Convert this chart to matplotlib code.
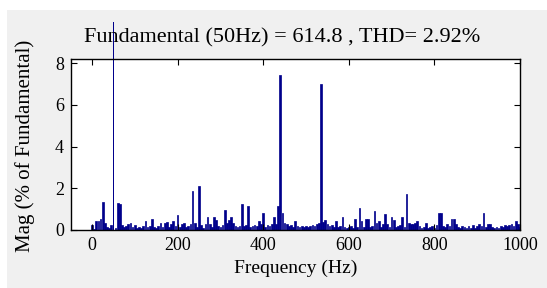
import matplotlib
matplotlib.use("Agg")
import matplotlib.pyplot as plt
import numpy as np
from matplotlib.patches import Rectangle
from matplotlib.transforms import Bbox, TransformedBbox

# FFT bins, 5 Hz resolution
freq = np.arange(0, 1001, 5)

# magnitude in % of fundamental, one row per 50 Hz
mag = [
    0.25, 0.05, 0.45, 0.45, 0.52, 1.35, 0.35, 0.15, 0.10, 0.25,   # 0-45
    100.0, 0.10, 1.28, 1.25, 0.25, 0.15, 0.20, 0.30, 0.35, 0.15,  # 50-95
    0.25, 0.10, 0.15, 0.10, 0.20, 0.45, 0.15, 0.20, 0.55, 0.15,   # 100-145
    0.10, 0.20, 0.35, 0.15, 0.35, 0.40, 0.15, 0.30, 0.45, 0.20,   # 150-195
    0.72, 0.15, 0.30, 0.35, 0.15, 0.20, 0.30, 1.85, 0.35, 0.15,   # 200-245
    2.12, 0.25, 0.10, 0.30, 0.62, 0.30, 0.15, 0.60, 0.50, 0.20,   # 250-295
    0.15, 0.25, 0.97, 0.35, 0.50, 0.60, 0.35, 0.20, 0.15, 0.20,   # 300-345
    1.26, 0.20, 0.25, 1.16, 0.15, 0.20, 0.25, 0.20, 0.45, 0.30,   # 350-395
    0.80, 0.15, 0.25, 0.20, 0.30, 0.62, 0.30, 1.17, 7.45, 0.80,   # 400-445
    0.35, 0.30, 0.20, 0.25, 0.15, 0.45, 0.20, 0.15, 0.20, 0.15,   # 450-495
    0.20, 0.15, 0.20, 0.25, 0.20, 0.30, 0.35, 7.00, 0.40, 0.50,   # 500-545
    0.30, 0.20, 0.25, 0.15, 0.45, 0.15, 0.20, 0.64, 0.15, 0.10,   # 550-595
    0.15, 0.20, 0.10, 0.53, 0.15, 1.07, 0.45, 0.15, 0.55, 0.55,   # 600-645
    0.15, 0.20, 0.90, 0.35, 0.45, 0.15, 0.30, 0.76, 0.30, 0.15,   # 650-695
    0.64, 0.50, 0.15, 0.20, 0.25, 0.64, 0.15, 1.75, 0.35, 0.30,   # 700-745
    0.30, 0.35, 0.45, 0.20, 0.10, 0.15, 0.35, 0.10, 0.15, 0.20,   # 750-795
    0.10, 0.25, 0.82, 0.80, 0.20, 0.15, 0.30, 0.20, 0.55, 0.55,   # 800-845
    0.30, 0.15, 0.10, 0.20, 0.15, 0.10, 0.20, 0.10, 0.25, 0.10,   # 850-895
    0.20, 0.30, 0.20, 0.80, 0.15, 0.30, 0.30, 0.15, 0.10, 0.15,   # 900-945
    0.10, 0.20, 0.15, 0.25, 0.20, 0.25, 0.30, 0.20, 0.45, 0.30,   # 950-995
    0.15,                                                         # 1000
]

fund_freq = 50
fund_mag = 614.8
thd = 2.92

xticks = [0, 200, 400, 600, 800, 1000]
yticks = [0, 2, 4, 6, 8]

plt.rcParams["font.family"] = ["Liberation Serif", "DejaVu Serif"]

W, H = 547, 288
fig = plt.figure(figsize=(W / 100, H / 100), dpi=100)
fig.patch.set_facecolor("white")
# grey figure panel (white strip at top and left)
fig.patches.append(Rectangle((7 / W, 0), 1, 1 - 10 / H, transform=fig.transFigure,
                             facecolor="#f0f0f0", edgecolor="none", zorder=-10))

ax = fig.add_axes([71 / W, 1 - 230 / H, (520 - 71) / W, (230 - 59) / H])
bars = ax.bar(freq, mag, width=4, color="#00008b", edgecolor="#00008b", linewidth=0.5)

# the fundamental bar runs off the top of the axes as a thin line
clip = TransformedBbox(Bbox([[71 / W, 1 - 230 / H], [520 / W, 1 - 22 / H]]), fig.transFigure)
fund_bar = bars[list(freq).index(fund_freq)]
fund_bar.set_clip_box(clip)
fund_bar.set_width(2.0)
fund_bar.set_x(fund_freq - 1.0)
fund_bar.set_linewidth(0)

ax.set_xlim(-49, 1000)
ax.set_ylim(0, 8.2)
ax.set_xticks(xticks)
ax.set_yticks(yticks)
ax.tick_params(direction="in", length=4, width=0.8, top=True, right=True,
               labelsize=13, pad=5)
for s in ax.spines.values():
    s.set_linewidth(1.0)

fig.text(282.5 / W, 1 - 42 / H,
         f"Fundamental ({fund_freq}Hz) = {fund_mag} , THD= {thd:.2f}%",
         ha="center", va="baseline", fontsize=16)
ax.set_xlabel("Frequency (Hz)", fontsize=14, labelpad=4)
fig.text(25 / W, 1 - 146 / H, "Mag (% of Fundamental)", rotation=90,
         ha="center", va="center", fontsize=15)

fig.savefig("out.png", dpi=100)
